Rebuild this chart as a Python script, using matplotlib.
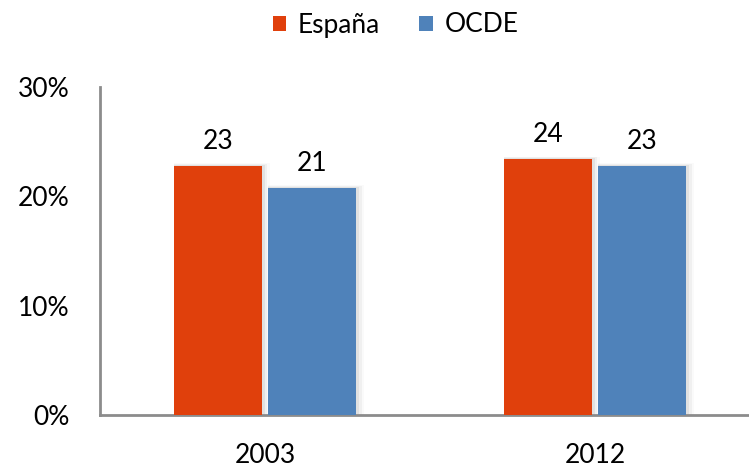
import numpy as np
import matplotlib.pyplot as plt

plt.rcParams['font.family'] = ['Lato', 'DejaVu Sans']

# data (percent)
years = ['2003', '2012']
espana = [22.8, 23.4]
ocde = [20.8, 22.8]
espana_labels = ['23', '24']
ocde_labels = ['21', '23']

col_es = '#E0400C'
col_oc = '#4F82BA'
col_axis = '#8C8C8C'

fig = plt.figure(figsize=(7.49, 4.69), dpi=100)
ax = fig.add_axes([100/749, 1-415/469, 660/749, (415-87)/469])

x = np.arange(len(years))
w = 0.268
off = 0.143
b1 = ax.bar(x - off, espana, w, color=col_es, label='España', zorder=3)
b2 = ax.bar(x + off, ocde, w, color=col_oc, label='OCDE', zorder=3)

# soft shadow behind bars
for bars in (b1, b2):
    for r in bars:
        for k, a in enumerate([0.06, 0.04, 0.02]):
            d = 0.004 * (k + 1)
            ax.bar(r.get_x() + r.get_width()/2 + d, r.get_height() + 0.08*(k+1),
                   r.get_width() + 2*d, color='black', alpha=a, zorder=2,
                   linewidth=0)

for rects, labs in ((b1, espana_labels), (b2, ocde_labels)):
    for r, t in zip(rects, labs):
        ax.text(r.get_x() + r.get_width()/2, r.get_height() + 1.1, t,
                ha='center', va='bottom', fontsize=19, color='black')

ax.set_xlim(-0.5, 1.5)
ax.set_ylim(0, 30)
ax.set_yticks([0, 10, 20, 30])
ax.set_yticklabels(['0%', '10%', '20%', '30%'], fontsize=19)
ax.set_xticks(x)
ax.set_xticklabels(years, fontsize=19)
ax.tick_params(axis='both', length=0, colors='black')
ax.tick_params(axis='y', pad=22)
ax.tick_params(axis='x', pad=20)

for s in ('top', 'right'):
    ax.spines[s].set_visible(False)
for s in ('left', 'bottom'):
    ax.spines[s].set_color(col_axis)
    ax.spines[s].set_linewidth(2)

leg = fig.legend(handles=[b1, b2], labels=['España', 'OCDE'], loc='center',
                 bbox_to_anchor=(0.528, 1-25/469), ncol=2, frameon=False,
                 fontsize=19, handlelength=0.5, handleheight=0.5,
                 handletextpad=0.45, columnspacing=1.5)

fig.savefig('out.png', dpi=100)
